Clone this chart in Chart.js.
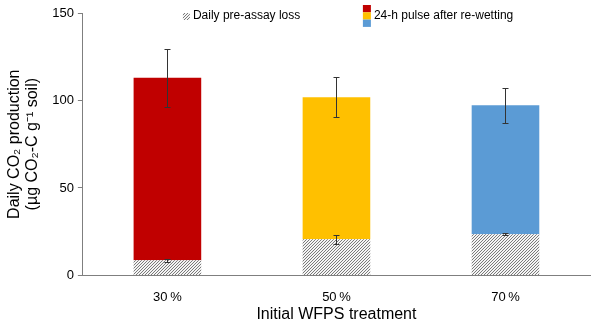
<!DOCTYPE html>
<html>
<head>
<meta charset="utf-8">
<script src="https://cdn.jsdelivr.net/npm/chart.js@4.4.0/dist/chart.umd.min.js"></script>
<style>
  html, body { margin: 0; padding: 0; background: #fff; }
  #wrap { width: 600px; height: 319px; }
</style>
</head>
<body>
<div id="wrap"><canvas id="myChart"></canvas></div>
<script>
// values
var treatments = ['30\u2009%', '50\u2009%', '70\u2009%'];
var preAssay = [8.6, 20.6, 23.5];
var preAssayErr = [0.8, 2.5, 0.5];
var pulse = [104.4, 81.3, 73.8];
var totalErr = [16.7, 11.5, 10.0];
var pulseColors = ['#C00000', '#FFC000', '#5B9BD5'];
var yTicks = [0, 50, 100, 150];

var FONT = 'Liberation Sans, Arial, sans-serif';

// fine diagonal hatch for the pre-assay part
function makeHatch() {
    var c = document.createElement('canvas');
    c.width = 3; c.height = 3;
    var g = c.getContext('2d');
    g.fillStyle = '#f4f4f4';
    g.fillRect(0, 0, 3, 3);
    g.fillStyle = '#7a7a7a';
    g.fillRect(0, 2, 1, 1);
    g.fillRect(1, 1, 1, 1);
    g.fillRect(2, 0, 1, 1);
    return document.createElement('canvas').getContext('2d').createPattern(c, 'repeat');
}
var hatch = makeHatch();

var errorBars = {
    id: 'errorBars',
    afterDatasetsDraw: function(chart) {
        var ctx = chart.ctx;
        var y = chart.scales.y;
        var m0 = chart.getDatasetMeta(0);
        ctx.save();
        ctx.lineWidth = 1;
        ctx.strokeStyle = '#333';
        for (var i = 0; i < treatments.length; i++) {
            var x = Math.round(m0.data[i].x) + 0.5;
            var list = [
                [preAssay[i], preAssayErr[i]],
                [preAssay[i] + pulse[i], totalErr[i]]
            ];
            list.forEach(function(e) {
                var top = Math.round(y.getPixelForValue(e[0] + e[1])) + 0.5;
                var bot = Math.round(y.getPixelForValue(e[0] - e[1])) + 0.5;
                ctx.beginPath();
                ctx.moveTo(x, top); ctx.lineTo(x, bot);
                ctx.moveTo(x - 3, top); ctx.lineTo(x + 3, top);
                ctx.moveTo(x - 3, bot); ctx.lineTo(x + 3, bot);
                ctx.stroke();
            });
        }
        ctx.restore();
    }
};

// legend drawn inside the plot, top centre
var topLegend = {
    id: 'topLegend',
    afterDraw: function(chart) {
        var ctx = chart.ctx;
        var a = chart.chartArea;
        var x0 = a.left + 100;
        var x1 = a.left + 280;
        var yc = 16;
        ctx.save();
        ctx.fillStyle = hatch;
        ctx.fillRect(x0, yc - 3, 7, 7);
        ctx.fillStyle = '#000';
        ctx.font = '12px ' + FONT;
        ctx.textBaseline = 'middle';
        ctx.textAlign = 'left';
        ctx.fillText(chart.data.datasets[0].label, x0 + 10, yc);
        for (var i = 0; i < 3; i++) {
            ctx.fillStyle = pulseColors[i];
            ctx.fillRect(x1, 5 + i * 7.3, 8, 7.3);
        }
        ctx.fillStyle = '#000';
        ctx.fillText(chart.data.datasets[1].label, x1 + 11, yc);
        ctx.restore();
    }
};

var ctx = document.getElementById('myChart').getContext('2d');
var chart = new Chart(ctx, {
    type: 'bar',
    data: {
        labels: treatments,
        datasets: [{
            label: 'Daily pre-assay loss',
            data: preAssay,
            backgroundColor: hatch
        }, {
            label: '24-h pulse after re-wetting',
            data: pulse,
            backgroundColor: pulseColors
        }]
    },
    options: {
        responsive: true,
        maintainAspectRatio: false,
        animation: false,
        datasets: { bar: { barPercentage: 0.4, categoryPercentage: 1 } },
        layout: { padding: { top: 13, right: 10, left: 6, bottom: -4 } },
        plugins: {
            tooltip: { enabled: false },
            legend: { display: false }
        },
        scales: {
            x: {
                stacked: true,
                grid: { drawOnChartArea: false, drawTicks: false },
                border: { color: '#7f7f7f', width: 1 },
                ticks: { color: '#000', padding: 14, font: { family: FONT, size: 13 } },
                title: {
                    display: true,
                    text: 'Initial WFPS treatment',
                    color: '#000',
                    padding: { top: -12, bottom: 0 },
                    font: { family: FONT, size: 16, lineHeight: 1.0 }
                }
            },
            y: {
                stacked: true,
                min: 0,
                max: 150,
                afterBuildTicks: function(s) { s.ticks = yTicks.map(function(v) { return { value: v }; }); },
                grid: { drawOnChartArea: false, drawTicks: true, tickLength: 5, color: '#7f7f7f' },
                border: { color: '#7f7f7f', width: 1 },
                ticks: { color: '#000', padding: 4, font: { family: FONT, size: 13 } },
                title: {
                    display: true,
                    text: ['Daily CO\u2082 production', '(\u00b5g CO\u2082-C g\u207b\u00b9 soil)'],
                    color: '#000',
                    padding: { top: 0, bottom: 7 },
                    font: { family: FONT, size: 16, lineHeight: 1.1 }
                }
            }
        }
    },
    plugins: [errorBars, topLegend]
});
</script>
</body>
</html>
